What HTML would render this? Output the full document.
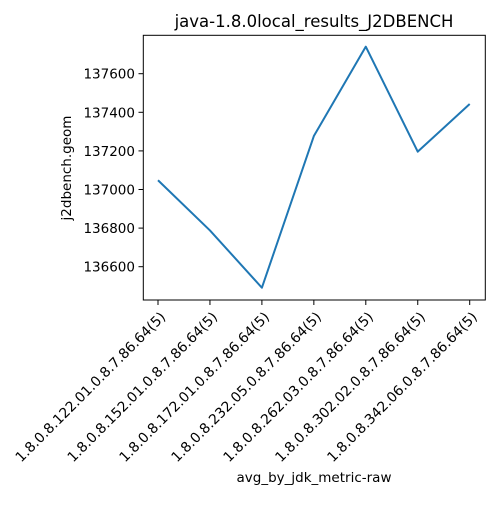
<!DOCTYPE html>
<html><head><meta charset="utf-8"><style>
body{margin:0;background:#fff}
svg text{font-family:"DejaVu Sans","Liberation Sans",sans-serif;fill:#000}
</style></head><body>
<svg id="chart" width="500" height="500" xmlns="http://www.w3.org/2000/svg">
<rect width="500" height="500" fill="#fff"/>
<text x="314" y="27" font-size="16.5" text-anchor="middle">java-1.8.0local_results_J2DBENCH</text>
<text x="314" y="482" font-size="13.5" text-anchor="middle">avg_by_jdk_metric-raw</text>
<text transform="translate(71,168) rotate(-90)" font-size="13.5" text-anchor="middle">j2dbench.geom</text>
<g id="yticks"></g>
<g id="xticks"></g>
<polyline id="line" fill="none" stroke="#1f77b4" stroke-width="2" stroke-linejoin="round"/>
<rect x="143.3" y="35.3" width="342" height="264.7" fill="none" stroke="#000" stroke-width="1"/>
</svg>
<script>
const categories=["1.8.0.8.122.01.0.8.7.86.64(5)","1.8.0.8.152.01.0.8.7.86.64(5)","1.8.0.8.172.01.0.8.7.86.64(5)","1.8.0.8.232.05.0.8.7.86.64(5)","1.8.0.8.262.03.0.8.7.86.64(5)","1.8.0.8.302.02.0.8.7.86.64(5)","1.8.0.8.342.06.0.8.7.86.64(5)"];
const values=[137048,136788,136491,137277,137740,137196,137443];
const yTicks=[136600,136800,137000,137200,137400,137600];
const NS="http://www.w3.org/2000/svg";
function xs(i){return 158+i*(469.7-158)/(categories.length-1);}
function ys(v){return 73.7+(137600-v)*0.193;}
const yg=document.getElementById('yticks'),xg=document.getElementById('xticks');
yTicks.forEach(t=>{
 const l=document.createElementNS(NS,'line');
 
 
 l.setAttribute('x1',138.5);l.setAttribute('x2',143.3);l.setAttribute('y1',ys(t));l.setAttribute('y2',ys(t));l.setAttribute('stroke','#000');
 yg.appendChild(l);
 const tx=document.createElementNS(NS,'text');
 
 
 tx.setAttribute('x',135);tx.setAttribute('y',ys(t)+5);tx.setAttribute('font-size','13.5');tx.setAttribute('text-anchor','end');
 tx.textContent=t;yg.appendChild(tx);
});
categories.forEach((c,i)=>{
 const x=xs(i);
 const l=document.createElementNS(NS,'line');
 
 
 l.setAttribute('x1',x);l.setAttribute('x2',x);l.setAttribute('y1',300);l.setAttribute('y2',305);l.setAttribute('stroke','#000');
 xg.appendChild(l);
 const tx=document.createElementNS(NS,'text');
 
 
 tx.setAttribute('transform','translate('+(x+1.5)+',311) rotate(-45)');
 tx.setAttribute('font-size','13.9');tx.setAttribute('text-anchor','end');
 tx.setAttribute('dominant-baseline','hanging');
 tx.textContent=c;xg.appendChild(tx);
});
document.getElementById('line').setAttribute('points',values.map((v,i)=>xs(i)+','+ys(v)).join(' '));
</script>
</body></html>
